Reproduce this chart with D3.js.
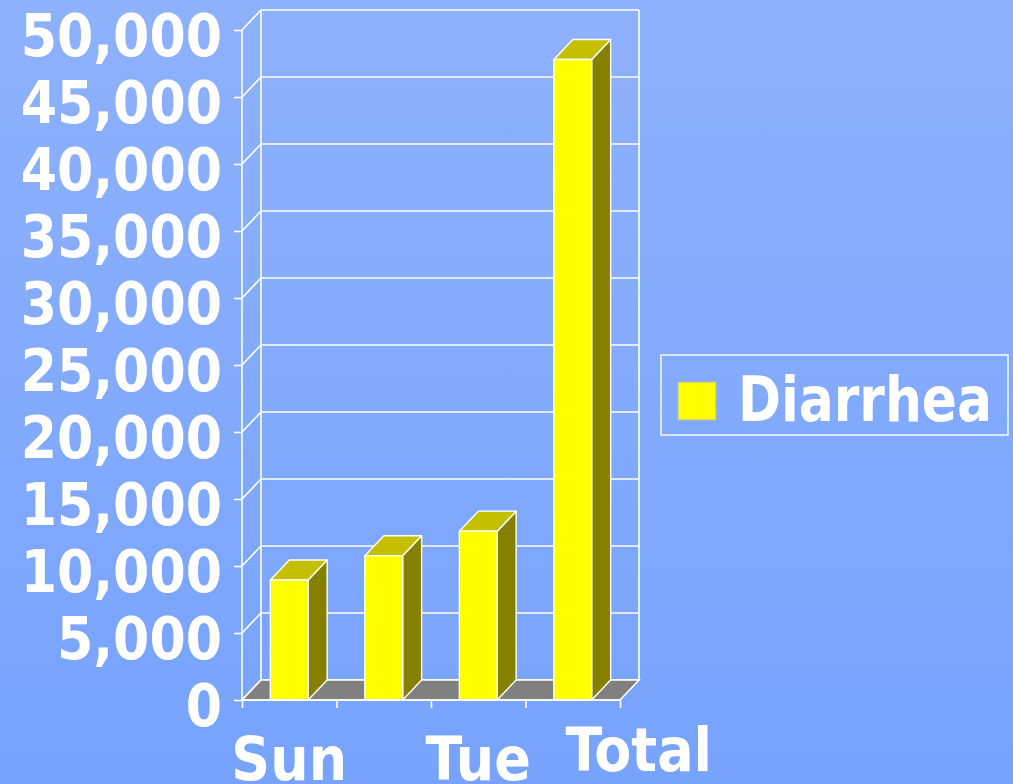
<!DOCTYPE html>
<html>
<head>
<meta charset="utf-8">
<script src="https://cdn.jsdelivr.net/npm/d3@7"></script>
<style>
  body { margin: 0; overflow: hidden; }
  text { font-family: 'DejaVu Sans Condensed', 'DejaVu Sans', Verdana, sans-serif; font-weight: bold; fill: #fff; }
</style>
</head>
<body>
<div id="chart"></div>
<script>
// data
const categories = ['Sun', 'Mon', 'Tue', 'Total']
const diarrhea = [8950, 10770, 12600, 47800]
const yTicks = [0, 5000, 10000, 15000, 20000, 25000, 30000, 35000, 40000, 45000, 50000]
const xLabels = ['Sun', '', 'Tue', 'Total']
const seriesName = 'Diarrhea'

const W = 1013
const H = 784

// 3d depth offset of the back wall
const depth = { dx: 19, dy: -20 }

const svg = d3.select('#chart').append('svg')
  .attr('width', W)
  .attr('height', H)

// background gradient
const grad = svg.append('defs').append('linearGradient')
  .attr('id', 'bg')
  .attr('x1', 0).attr('y1', 0).attr('x2', 0).attr('y2', 1)
grad.append('stop').attr('offset', '0%').attr('stop-color', '#8eb1fb')
grad.append('stop').attr('offset', '100%').attr('stop-color', '#77a3fd')
svg.append('rect').attr('width', W).attr('height', H).attr('fill', 'url(#bg)')

const y = d3.scaleLinear().domain([0, 50000]).range([700, 30])
const x = d3.scaleBand().domain(categories).range([242, 620]).paddingInner(0.6).paddingOuter(0.3)
const xEdge = d3.scaleLinear().domain([0, categories.length]).range([242, 620])

const grid = svg.append('g').attr('stroke', '#fff').attr('stroke-width', 1.6).attr('fill', 'none')

// back wall gridlines
grid.selectAll('.hgrid').data(yTicks).join('line')
  .attr('x1', xEdge(0) + depth.dx)
  .attr('x2', xEdge(categories.length) + depth.dx)
  .attr('y1', d => y(d) + depth.dy)
  .attr('y2', d => y(d) + depth.dy)

// back wall edges
grid.append('line')
  .attr('x1', xEdge(0) + depth.dx).attr('x2', xEdge(0) + depth.dx)
  .attr('y1', y(0) + depth.dy).attr('y2', y(50000) + depth.dy)
grid.append('line')
  .attr('x1', xEdge(categories.length) + depth.dx).attr('x2', xEdge(categories.length) + depth.dx)
  .attr('y1', y(0) + depth.dy).attr('y2', y(50000) + depth.dy)

// side wall diagonals
grid.selectAll('.diag').data(yTicks).join('line')
  .attr('x1', xEdge(0))
  .attr('x2', xEdge(0) + depth.dx)
  .attr('y1', d => y(d))
  .attr('y2', d => y(d) + depth.dy)

// floor
const x0 = xEdge(0), x1 = xEdge(categories.length), yb = y(0)
svg.append('polygon')
  .attr('points', [[x0, yb], [x1, yb], [x1 + depth.dx, yb + depth.dy], [x0 + depth.dx, yb + depth.dy]].join(' '))
  .attr('fill', '#808080')
  .attr('stroke', '#fff')
  .attr('stroke-width', 1.6)

// bars
const bars = svg.append('g').selectAll('g').data(diarrhea).join('g')
  .attr('stroke', '#fff')
  .attr('stroke-width', 1.4)
  .attr('stroke-linejoin', 'round')

bars.append('polygon')
  .attr('fill', '#858000')
  .attr('points', (d, i) => {
    const r = x(categories[i]) + x.bandwidth()
    return [[r, y(0)], [r, y(d)], [r + depth.dx, y(d) + depth.dy], [r + depth.dx, y(0) + depth.dy]].join(' ')
  })

bars.append('polygon')
  .attr('fill', '#c4bf00')
  .attr('points', (d, i) => {
    const l = x(categories[i]), r = l + x.bandwidth()
    return [[l, y(d)], [r, y(d)], [r + depth.dx, y(d) + depth.dy], [l + depth.dx, y(d) + depth.dy]].join(' ')
  })

bars.append('rect')
  .attr('fill', '#ffff00')
  .attr('x', (d, i) => x(categories[i]))
  .attr('width', x.bandwidth())
  .attr('y', d => y(d))
  .attr('height', d => y(0) - y(d))

// y axis
const yAxis = svg.append('g')
  .attr('transform', `translate(${xEdge(0)},0)`)
  .call(d3.axisLeft(y).tickValues(yTicks).tickSize(8).tickPadding(12).tickFormat(d3.format(',')))
yAxis.select('.domain').attr('stroke', '#fff').attr('stroke-width', 1.6).attr('d', `M0,${y(0)}V${y(50000)}`)
yAxis.selectAll('.tick line').attr('stroke', '#fff').attr('stroke-width', 1.6)
yAxis.selectAll('.tick text')
  .attr('fill', '#fff')
  .attr('font-size', 58)
  .attr('font-family', null)
  .attr('dy', 25)

// x axis
const xAxis = svg.append('g')
  .attr('transform', `translate(0,${y(0)})`)
  .call(d3.axisBottom(xEdge).ticks(categories.length).tickSize(8).tickFormat(''))
xAxis.select('.domain').attr('stroke', '#fff').attr('stroke-width', 1.6).attr('d', `M${x0},0H${x1}`)
xAxis.selectAll('.tick line').attr('stroke', '#fff').attr('stroke-width', 1.6)

// category labels (Excel skipped Mon, pushed Total to the right and up)
svg.append('g').selectAll('text').data(xLabels).join('text')
  .attr('x', (d, i) => x(categories[i]) + x.bandwidth() / 2)
  .attr('y', 780)
  .attr('dx', d => d === 'Total' ? 66 : 0)
  .attr('dy', d => d === 'Total' ? -9 : 0)
  .attr('text-anchor', 'middle')
  .attr('font-size', 60)
  .text(d => d)

// legend
const legend = svg.append('g')
legend.append('rect')
  .attr('x', 661).attr('y', 355).attr('width', 347).attr('height', 80)
  .attr('fill', 'none').attr('stroke', '#fff').attr('stroke-width', 1.4)
legend.append('rect')
  .attr('x', 678).attr('y', 382).attr('width', 38).attr('height', 38)
  .attr('fill', '#ffff00').attr('stroke', '#b8b8b8').attr('stroke-width', 1.2)
legend.append('text')
  .attr('x', 738).attr('y', 421)
  .attr('font-size', 62)
  .attr('textLength', 254)
  .attr('lengthAdjust', 'spacingAndGlyphs')
  .text(seriesName)
</script>
</body>
</html>
